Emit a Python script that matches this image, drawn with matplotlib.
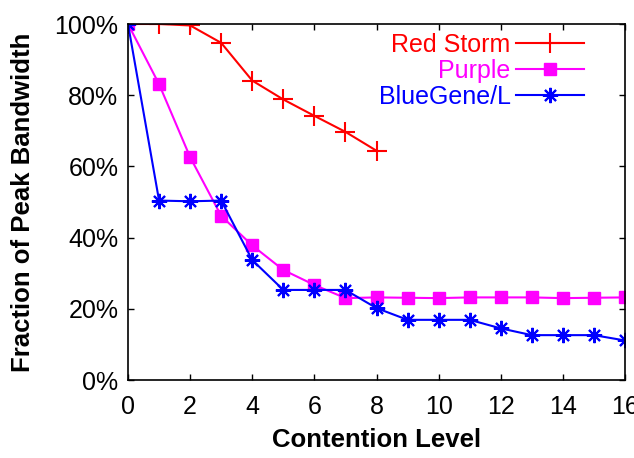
import matplotlib
matplotlib.use('Agg')
import matplotlib.pyplot as plt
from matplotlib.ticker import FuncFormatter

plt.rcParams['font.family'] = ['Liberation Sans', 'DejaVu Sans']
plt.rcParams['font.size'] = 18

# contention level vs. fraction of peak bandwidth (%)
red_x = [0, 1, 2, 3, 4, 5, 6, 7, 8]
red_y = [100, 100, 99.6, 94.7, 84.1, 78.8, 74.2, 69.7, 64.4]

purple_x = list(range(17))
purple_y = [100, 83.1, 62.6, 46.1, 37.8, 30.9, 26.7, 23.0, 23.2, 23.1, 23.0,
            23.2, 23.2, 23.2, 23.0, 23.1, 23.2]

blue_x = list(range(17))
blue_y = [100, 50.4, 50.2, 50.4, 33.7, 25.3, 25.3, 25.3, 20.2, 16.9, 16.9,
          16.9, 14.5, 12.6, 12.6, 12.6, 11.1]

xticks = [0, 2, 4, 6, 8, 10, 12, 14, 16]
yticks = [0, 20, 40, 60, 80, 100]

fig = plt.figure(figsize=(6.34, 4.58), dpi=100)
ax = fig.add_axes([128 / 634, 1 - 380 / 458, 497 / 634, 356 / 458])

ax.plot(red_x, red_y, color='#ff0000', lw=1.5, marker='+', ms=14, mew=1.5,
        label='Red Storm')
ax.plot(purple_x, purple_y, color='#ff00ff', lw=1.5, marker='s', ms=8.5,
        label='Purple')
ax.plot(blue_x, blue_y, color='#0000ff', lw=1.5, marker=(8, 2, 0), ms=11,
        mew=1.5, label='BlueGene/L')

ax.set_xlim(0, 16)
ax.set_ylim(0, 100)
ax.set_xticks(xticks)
ax.set_yticks(yticks)
ax.yaxis.set_major_formatter(FuncFormatter(lambda v, p: '%d%%' % v))
ax.tick_params(direction='in', top=True, right=True, length=4.5, width=1,
               labelsize=18)
ax.tick_params(axis='x', pad=11)
ax.tick_params(axis='y', pad=7)
for s in ax.spines.values():
    s.set_linewidth(1.2)

ax.set_xlabel('Contention Level', fontweight='bold', fontsize=18.5,
              labelpad=6)
ax.set_ylabel('Fraction of Peak Bandwidth', fontweight='bold', fontsize=18.5,
              labelpad=14)

leg = ax.legend(loc='upper right', bbox_to_anchor=(0.9235, 0.983), frameon=False,
                markerfirst=False, handlelength=2.75, labelcolor='linecolor',
                fontsize=18, labelspacing=0.08, borderaxespad=0, borderpad=0.1,
                handletextpad=0.2)
for t in leg.get_texts():
    t.set_ha('right')
leg._legend_box.align = 'right'

fig.savefig('out.png', dpi=100)
